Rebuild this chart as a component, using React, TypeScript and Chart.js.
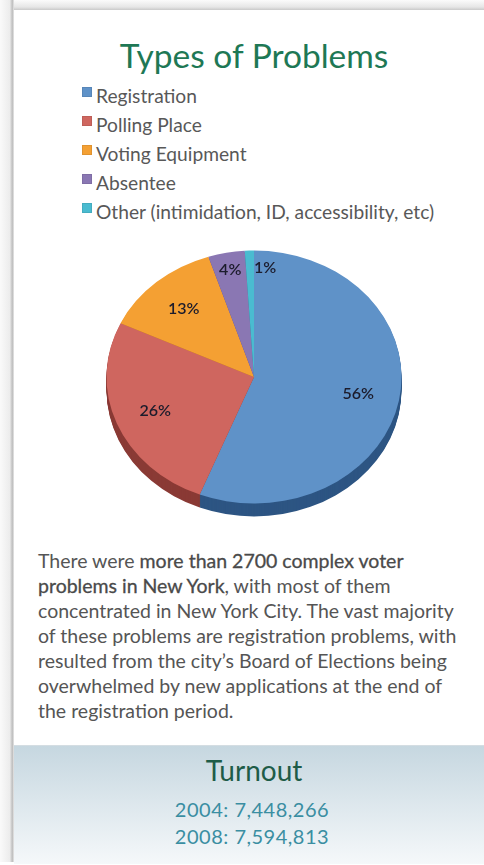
import React, { useEffect, useRef } from "react";
import { Chart, registerables } from "chart.js";

Chart.register(...registerables);

const categories = [
  "Registration",
  "Polling Place",
  "Voting Equipment",
  "Absentee",
  "Other (intimidation, ID, accessibility, etc)",
];
const shares = [56, 26, 13, 4, 1];
const faceColors = ["#5f92c8", "#cf665f", "#f4a033", "#8a77b3", "#4abbd0"];
const sideColors = ["#2d5583", "#8a3a35", "#b2701c", "#5b4a84", "#2a8194"];
const titleText = "Types of Problems";
const turnoutTitle = "Turnout";
const turnoutYears = ["2004", "2008"];
const turnoutValues = ["7,448,266", "7,594,813"];

const FONT = "Lato, 'Open Sans', sans-serif";
const SX = 1.166;
const DEPTH = 13;

const pie3d = {
  id: "pie3d",
  beforeDatasetsDraw(chart: any) {
    const meta = chart.getDatasetMeta(0);
    const ctx = chart.ctx;
    const a0 = meta.data[0];
    const cx = a0.x;
    const cy = a0.y;
    ctx.save();
    ctx.translate(cx, cy);
    ctx.scale(SX, 1);
    ctx.translate(-cx, -cy);
    for (let d = DEPTH; d >= 1; d--) {
      meta.data.forEach((arc: any, i: number) => {
        ctx.beginPath();
        ctx.moveTo(arc.x, arc.y + d);
        ctx.arc(arc.x, arc.y + d, arc.outerRadius, arc.startAngle, arc.endAngle);
        ctx.closePath();
        ctx.fillStyle = sideColors[i];
        ctx.fill();
      });
    }
  },
  afterDatasetsDraw(chart: any) {
    const ctx = chart.ctx;
    ctx.restore();
    const meta = chart.getDatasetMeta(0);
    ctx.save();
    ctx.font = `600 16px ${FONT}`;
    ctx.fillStyle = "#1c1c2c";
    ctx.textBaseline = "middle";
    meta.data.forEach((arc: any, i: number) => {
      const v = shares[i];
      const mid = (arc.startAngle + arc.endAngle) / 2;
      const f = v < 5 ? 0.86 : 0.72;
      const r = arc.outerRadius * f;
      let x = arc.x + Math.cos(mid) * r * SX;
      const y = arc.y + Math.sin(mid) * r;
      ctx.textAlign = "center";
      if (v < 2) {
        ctx.textAlign = "left";
        x = arc.x;
      }
      ctx.fillText(v + "%", x, y);
    });
    ctx.restore();
  },
};

const boldStyle: React.CSSProperties = {
  fontWeight: 400,
  color: "#4a4a4a",
  WebkitTextStroke: "0.3px #4a4a4a",
};

export default function App() {
  const ref = useRef<HTMLCanvasElement>(null);
  useEffect(() => {
    document.body.style.margin = "0";
    const chart = new Chart(ref.current!, {
      type: "pie",
      data: {
        labels: categories,
        datasets: [
          {
            data: shares,
            backgroundColor: faceColors,
            borderWidth: 0,
            clip: false as any,
          },
        ],
      },
      options: {
        responsive: false,
        devicePixelRatio: 1,
        animation: false,
        layout: { padding: { left: 24, right: 0, top: 10.5, bottom: 26.5 } },
        plugins: { legend: { display: false }, tooltip: { enabled: false } },
      },
      plugins: [pie3d],
    });
    return () => chart.destroy();
  }, []);

  return (
    <div
      style={{
        position: "absolute",
        left: 0,
        top: 0,
        width: 484,
        height: 865,
        background: "#ffffff",
        overflow: "hidden",
        fontFamily: FONT,
      }}
    >
      <div
        style={{
          position: "absolute",
          left: 0,
          top: 0,
          width: 484,
          height: 10,
          background: "linear-gradient(#fbfbfb, #e6e6e6 70%, #c9c9c9)",
        }}
      />
      <div
        style={{
          position: "absolute",
          left: 0,
          top: 0,
          width: 14,
          height: 862,
          background: "linear-gradient(to right, #fafafa, #ececec 70%, #bdbdbd 88%, #e8e8e8)",
        }}
      />
      <div
        style={{
          position: "absolute",
          left: 14,
          top: 745,
          width: 470,
          height: 118,
          background: "linear-gradient(#c6d7e0, #f5f8fa)",
          borderTop: "1px solid #d4dde2",
        }}
      />
      <div
        style={{
          position: "absolute",
          left: 0,
          top: 31,
          width: 484,
          textAlign: "center",
          fontSize: 33.5,
          lineHeight: "48px",
          color: "#1e7855",
        }}
      >
        <span style={{ position: "relative", left: 12 }}>{titleText}</span>
      </div>
      <div style={{ position: "absolute", left: 82, top: 81 }}>
        {categories.map((c, i) => (
          <div key={c} style={{ display: "flex", alignItems: "flex-start", height: 29 }}>
            <div
              style={{
                width: 10,
                height: 10,
                marginTop: 6,
                marginRight: 4,
                background: faceColors[i],
                boxShadow: "inset 0 0 0 1px rgba(0,0,0,0.08)",
              }}
            />
            <div style={{ fontSize: 19.2, lineHeight: "29px", color: "#585858" }}>{c}</div>
          </div>
        ))}
      </div>
      <canvas
        ref={ref}
        width={484}
        height={290}
        style={{ position: "absolute", left: 0, top: 240, width: 484, height: 290 }}
      />
      <div
        style={{
          position: "absolute",
          left: 38,
          top: 548,
          fontSize: 19.5,
          lineHeight: "25px",
          color: "#555555",
          whiteSpace: "nowrap",
        }}
      >
        There were <span style={boldStyle}>more than 2700 complex voter</span>
        <br />
        <span style={boldStyle}>problems in New York</span>, with most of them
        <br />
        concentrated in New York City. The vast majority
        <br />
        of these problems are registration problems, with
        <br />
        resulted from the city’s Board of Elections being
        <br />
        overwhelmed by new applications at the end of
        <br />
        the registration period.
      </div>
      <div
        style={{
          position: "absolute",
          left: 0,
          width: 484,
          top: 751,
          textAlign: "center",
        }}
      >
        <div style={{ fontSize: 28, lineHeight: "38px", color: "#1e5c48", position: "relative", left: 12 }}>
          {turnoutTitle}
        </div>
        {turnoutYears.map((y, i) => (
          <div
            key={y}
            style={{
              fontSize: 20,
              lineHeight: "27px",
              color: "#3a8ea2",
              letterSpacing: 0.5,
              position: "relative",
              left: 10,
              top: 7,
            }}
          >
            {y}: {turnoutValues[i]}
          </div>
        ))}
      </div>
    </div>
  );
}
